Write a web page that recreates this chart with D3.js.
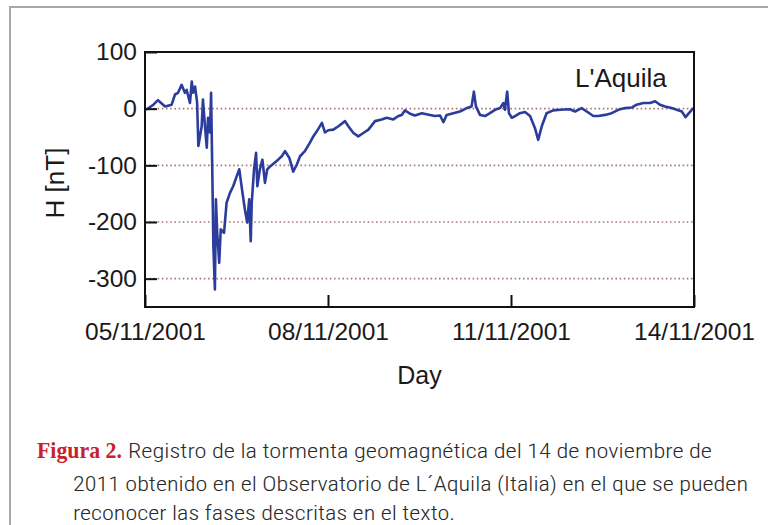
<!DOCTYPE html>
<html>
<head>
<meta charset="utf-8">
<script src="https://cdn.jsdelivr.net/npm/d3@7"></script>
<style>
  html, body { margin: 0; padding: 0; background: #ffffff; }
  svg { display: block; }
</style>
</head>
<body>
<svg id="chart" width="768" height="525"></svg>
<script>
// ---- data (hours since 05/11/2001 00:00, H in nT) ----
const hours = [0.4,3.3,5.1,7.9,10.5,11.8,13.0,14.4,15.7,16.4,17.7,18.4,18.9,19.7,20.5,21.0,22.3,22.8,23.6,24.3,24.8,25.6,26.0,26.2,26.6,26.9,27.5,27.9,28.4,29.2,29.8,31.1,32.1,33.4,34.7,36.1,37.1,38.0,39.3,40.2,41.0,41.6,42.0,42.9,43.7,44.2,45.2,46.2,47.2,48.1,49.2,51.1,52.4,53.8,55.1,56.8,58.3,59.7,61.0,62.9,64.9,66.2,67.6,69.6,70.8,72.1,74.1,76.1,78.7,80.0,82.0,83.9,85.9,87.9,90.5,93.1,95.1,97.7,99.7,101.0,102.3,104.3,106.2,108.9,112.1,114.1,116.1,117.4,118.7,121.3,123.9,126.6,128.5,129.4,130.2,131.8,133.8,135.7,137.7,139.7,141.0,141.6,142.5,143.2,144.3,145.6,147.5,149.5,151.5,153.4,154.7,156.1,158.0,160.6,163.3,167.2,169.2,171.8,173.8,176.4,178.4,181.0,183.6,186.2,188.9,191.5,193.4,196.1,198.7,200.7,202.6,204.6,207.2,209.2,211.2,212.7,214.0,215.7];
const hValues = [-2,7,15,4,7,25,28,42,28,33,10,48,28,39,11,-66,-31,16,-31,-69,-16,-42,28,-31,-148,-243,-319,-160,-219,-272,-213,-219,-166,-149,-137,-119,-107,-137,-178,-201,-160,-234,-166,-107,-78,-137,-107,-90,-131,-107,-102,-95,-90,-84,-75,-87,-111,-99,-84,-75,-60,-49,-40,-25,-42,-38,-37,-31,-22,-31,-43,-49,-43,-37,-22,-19,-16,-19,-13,-11,-3,-9,-12,-8,-11,-13,-12,-24,-11,-8,-5,1,4,30,4,-11,-13,-8,-2,1,10,-2,30,-8,-16,-13,-8,-6,-13,-34,-55,-31,-8,-3,-2,-1,-5,1,-5,-13,-13,-11,-8,-2,1,2,7,10,10,13,7,4,1,-2,-5,-15,-8,1];
const xTickDates = ["2001-11-05","2001-11-08","2001-11-11","2001-11-14"];
const yTicks = [100, 0, -100, -200, -300];
const gridValues = [0, -100, -200, -300];
const yLabel = "H [nT]";
const xLabel = "Day";
const stationLabel = "L'Aquila";
const captionBold = "Figura 2.";
const captionLines = [
  "Registro de la tormenta geomagnética del 14 de noviembre de",
  "2011 obtenido en el Observatorio de L´Aquila (Italia) en el que se pueden",
  "reconocer las fases descritas en el texto."
];

// ---- layout ----
const svg = d3.select("#chart");
const start = new Date(2001, 10, 5);
const parse = d3.timeParse("%Y-%m-%d");
const fmt = d3.timeFormat("%d/%m/%Y");
const plot = { left: 145, right: 694, top: 52, bottom: 307 };
const labelFont = "'Liberation Sans', Arial, Helvetica, sans-serif";

const x = d3.scaleTime()
  .domain([start, d3.timeDay.offset(start, 9)])
  .range([plot.left, plot.right]);
const y = d3.scaleLinear().domain([-350, 100]).range([plot.bottom, plot.top]);

const data = hours.map((h, i) => ({ t: new Date(start.getTime() + h * 3600000), v: hValues[i] }));

// outer frame
svg.append("path")
  .attr("d", `M10,525 L10,7 L768,7`)
  .attr("fill", "none").attr("stroke", "#a8a8a8").attr("stroke-width", 2);

// gridlines
svg.append("g").selectAll("line").data(gridValues).join("line")
  .attr("x1", plot.left).attr("x2", plot.right)
  .attr("y1", d => y(d)).attr("y2", d => y(d))
  .attr("stroke", "#a87878").attr("stroke-width", 1.6)
  .attr("stroke-dasharray", "1.6,2.6");

// data line
svg.append("path")
  .datum(data)
  .attr("d", d3.line().x(d => x(d.t)).y(d => y(d.v)))
  .attr("fill", "none").attr("stroke", "#2c3c9c")
  .attr("stroke-width", 2.6).attr("stroke-linejoin", "round");

// axes
const yAxis = svg.append("g")
  .attr("transform", `translate(${plot.left},0)`)
  .call(d3.axisLeft(y).tickValues(yTicks).tickFormat(d => String(d)).tickSize(-12).tickPadding(8));
const xAxis = svg.append("g")
  .attr("transform", `translate(0,${plot.bottom})`)
  .call(d3.axisBottom(x).tickValues(xTickDates.map(parse)).tickFormat(fmt).tickSize(-12).tickPadding(16));
[yAxis, xAxis].forEach(g => {
  g.select(".domain").remove();
  g.selectAll(".tick line").attr("stroke", "#111").attr("stroke-width", 2);
  g.selectAll(".tick text").attr("fill", "#1a1a1a")
    .style("font-family", labelFont).style("font-size", "24.5px");
});

// plot box
svg.append("rect")
  .attr("x", plot.left).attr("y", plot.top)
  .attr("width", plot.right - plot.left).attr("height", plot.bottom - plot.top)
  .attr("fill", "none").attr("stroke", "#111").attr("stroke-width", 2);

// labels
svg.append("text")
  .attr("transform", `translate(64,183) rotate(-90)`)
  .attr("text-anchor", "middle")
  .style("font-family", labelFont).style("font-size", "26px")
  .attr("fill", "#1a1a1a").text(yLabel);
svg.append("text")
  .attr("x", (plot.left + plot.right) / 2).attr("y", 384)
  .attr("text-anchor", "middle")
  .style("font-family", labelFont).style("font-size", "25px")
  .attr("fill", "#1a1a1a").text(xLabel);
svg.append("text")
  .attr("x", 575).attr("y", 87)
  .style("font-family", labelFont).style("font-size", "26px")
  .attr("fill", "#1a1a1a").text(stationLabel);

// caption
const capFont = "'Liberation Sans Narrow', 'Roboto Condensed', Roboto, sans-serif";
svg.append("text")
  .attr("x", 37).attr("y", 458)
  .attr("textLength", 85).attr("lengthAdjust", "spacingAndGlyphs")
  .style("font-family", "'Liberation Serif', 'DejaVu Serif', serif").style("font-weight", "bold")
  .style("font-size", "23px").attr("fill", "#c8202c").text(captionBold);
const capPos = [{ x: 128, y: 458, w: 584 }, { x: 73, y: 491, w: 675 }, { x: 73, y: 520, w: 382 }];
captionLines.forEach((t, i) => {
  svg.append("text")
    .attr("x", capPos[i].x).attr("y", capPos[i].y)
    .attr("textLength", capPos[i].w).attr("lengthAdjust", "spacingAndGlyphs")
    .style("font-family", capFont).style("font-size", "21px").style("font-weight", "300")
    .attr("fill", "#2a2a2a").text(t);
});
</script>
</body>
</html>
